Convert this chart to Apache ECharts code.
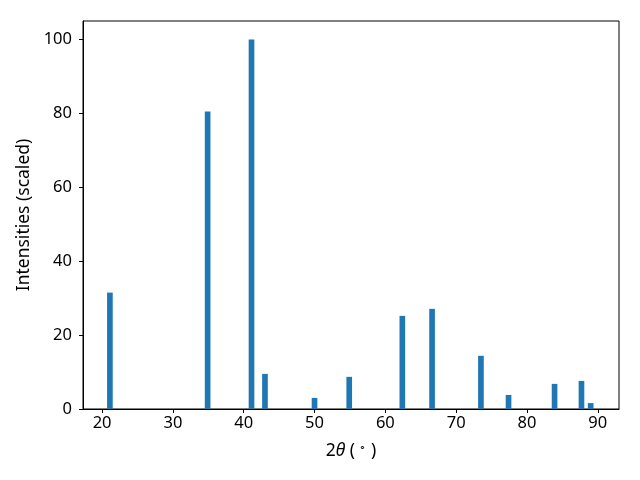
<!DOCTYPE html>
<html><head><meta charset="utf-8">
<script src="https://cdn.jsdelivr.net/npm/echarts@6/dist/echarts.min.js"></script>
<style>html,body{margin:0;padding:0;background:#fff}#c{width:640px;height:480px}</style>
</head><body><div id="c"></div>
<script>
const twoTheta = [21.1, 34.9, 41.1, 43.0, 50.0, 54.9, 62.4, 66.6, 73.5, 77.4, 83.9, 87.7, 89.0];
const intensity = [31.5, 80.5, 100, 9.5, 3.0, 8.7, 25.2, 27.1, 14.4, 3.8, 6.8, 7.6, 1.6];
const xTicks = [20, 30, 40, 50, 60, 70, 80, 90];
const yTicks = [0, 20, 40, 60, 80, 100];
const barW = 0.8;

const chart = echarts.init(document.getElementById('c'), null, {renderer: 'canvas'});
const font = 'Noto Sans';
const fs = 16.5;
const nfs = 17.5;
chart.setOption({
  animation: false,
  grid: {left: 83, right: 21, top: 21, bottom: 71, show: true, borderColor: '#000', borderWidth: 1, backgroundColor: 'transparent'},
  xAxis: {
    type: 'value', min: 17.3, max: 93.0, interval: 10,
    name: '2{it|θ} ( {sup|∘} )', nameLocation: 'middle', nameGap: 33,
    nameTextStyle: {color: '#000', fontFamily: font, fontSize: nfs,
      rich: {it: {fontStyle: 'italic', fontFamily: font, fontSize: nfs, color: '#000'},
             sup: {fontSize: 11, fontFamily: font, color: '#000', verticalAlign: 'top', padding: [0,0,8,0]}}},
    axisLine: {show: true, lineStyle: {color: '#000', width: 1}},
    axisTick: {show: true, inside: false, length: 4, lineStyle: {color: '#000'},
      customValues: xTicks},
    axisLabel: {color: '#000', fontFamily: font, fontSize: fs, margin: 6, customValues: xTicks},
    splitLine: {show: false}
  },
  yAxis: {
    type: 'value', min: 0, max: 105, interval: 20,
    name: 'Intensities (scaled)', nameLocation: 'middle', nameGap: 48,
    nameTextStyle: {color: '#000', fontFamily: font, fontSize: nfs},
    axisLine: {show: true, lineStyle: {color: '#000', width: 1}},
    axisTick: {show: true, inside: false, length: 4, lineStyle: {color: '#000'}, customValues: yTicks},
    axisLabel: {color: '#000', fontFamily: font, fontSize: fs, margin: 11, customValues: yTicks},
    splitLine: {show: false}
  },
  series: [{
    type: 'custom',
    data: twoTheta.map((x, i) => [x, intensity[i]]),
    encode: {x: 0, y: 1},
    renderItem: function (params, api) {
      const x = api.value(0), y = api.value(1);
      const p0 = api.coord([x - barW / 2, y]);
      const p1 = api.coord([x + barW / 2, 0]);
      return {type: 'rect', shape: {x: p0[0], y: p0[1], width: p1[0] - p0[0], height: p1[1] - p0[1]},
        style: {fill: '#1f77b4'}};
    }
  }]
});
</script></body></html>
